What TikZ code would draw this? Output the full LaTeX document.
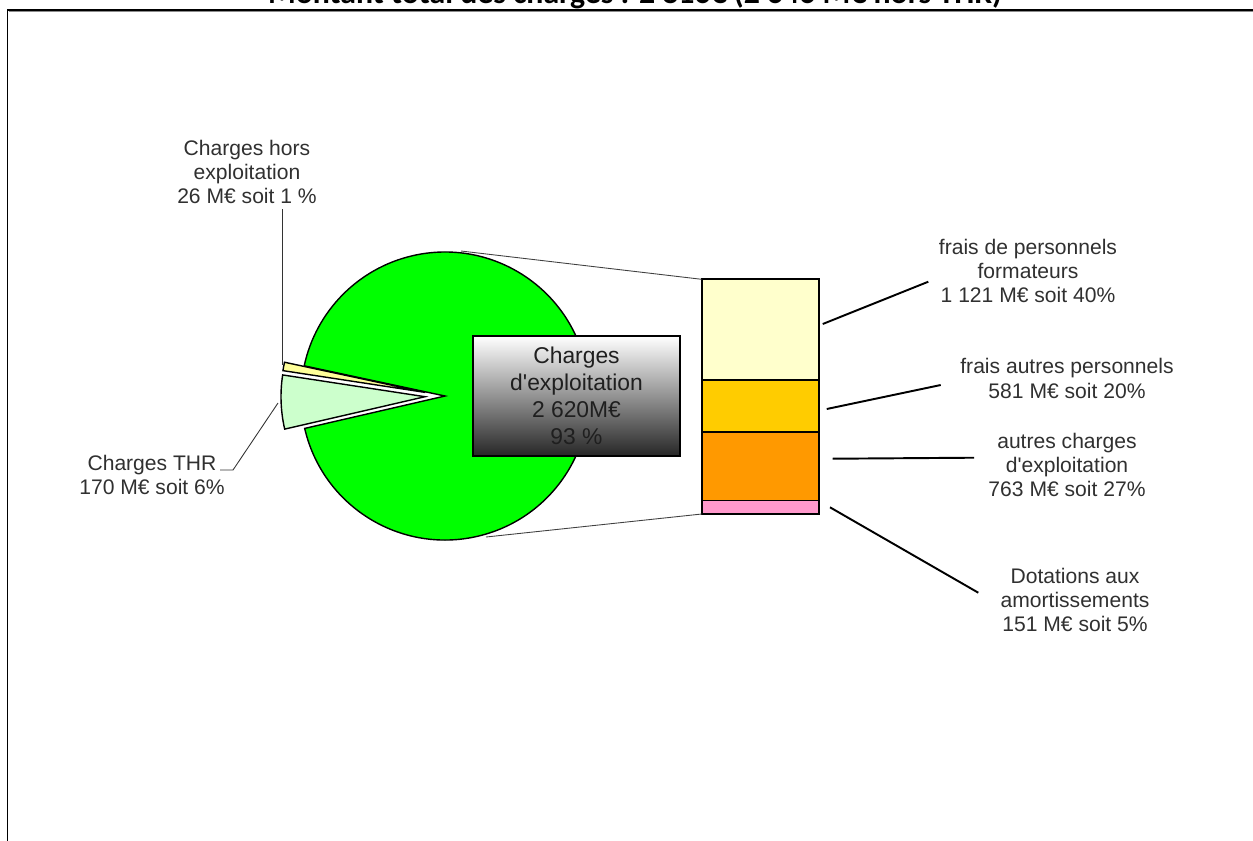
\documentclass[tikz,border=0pt]{standalone}
\usepackage{fontspec}
\setmainfont{Liberation Sans}[Ligatures=TeXOff]
\newfontfamily\titlefont{Carlito}
\definecolor{pgreen}{HTML}{00FF00}
\definecolor{pthr}{HTML}{CCFFCC}
\definecolor{phors}{HTML}{FFFF99}
\definecolor{bone}{HTML}{FFFFCC}
\definecolor{btwo}{HTML}{FFCC00}
\definecolor{bthree}{HTML}{FF9900}
\definecolor{bfour}{HTML}{FF99CC}
\definecolor{txt}{HTML}{303030}
\tikzset{
  lbl/.style={align=center, inner sep=0pt, text=txt, font=\fontsize{12}{13.9}\selectfont},
  boxlbl/.style={draw=black, line width=0.9pt, align=center, text=black!88,
    top color=white, bottom color=black!85, minimum width=4.14cm, minimum height=2.4cm,
    inner sep=0pt, font=\fontsize{13}{15.4}\selectfont},
  slice/.style={draw=black, line width=0.8pt},
  barseg/.style={draw=black, line width=1.1pt},
  thinlead/.style={draw=black!80, line width=0.5pt},
  thicklead/.style={draw=black, line width=1.1pt},
  zoomline/.style={draw=black!75, line width=0.5pt},
}
\begin{document}
\begin{tikzpicture}[x=0.02cm, y=-0.02cm]
\useasboundingbox (0,0) rectangle (1253,840);
% frame
\draw[black!45, line width=0.6pt] (8.5,11.3) -- (1300,11.3);
\draw[black, line width=1.1pt] (7.5,900) -- (7.5,9.8) -- (1300,9.8);
% title (cut off at the top, as in the reference)
\node[anchor=base, inner sep=0pt] (title) at (635,3.5) {\resizebox{14.68cm}{!}{\titlefont\bfseries Montant total des charges : 2 816€ (2 646 M€ hors THR)}};
% pie
\filldraw[slice, fill=pgreen] (445,396) -- ++(167:144) arc[start angle=167, end angle=-167.9, radius=144] -- cycle;
\filldraw[slice, fill=pthr] (425,396.7) -- ++(167:144) arc[start angle=167, end angle=188.7, radius=144] -- cycle;
\filldraw[slice, fill=phors] (425.3,392.4) -- ++(188.7:144) arc[start angle=188.7, end angle=192.1, radius=144] -- cycle;
% bar
\filldraw[barseg, fill=bone] (701.7,279.3) rectangle (819.3,379.9);
\filldraw[barseg, fill=btwo] (701.7,379.9) rectangle (819.3,432.2);
\filldraw[barseg, fill=bthree] (701.7,432.2) rectangle (819.3,500.5);
\filldraw[barseg, fill=bfour] (701.7,500.5) rectangle (819.3,514);
% zoom lines pie -> bar
\coordinate (pieTop) at (461,251);
\coordinate (pieBot) at (486,537);
\coordinate (barTL) at (701.7,279.3);
\coordinate (barBL) at (701.7,514);
\draw[zoomline] (pieTop) -- (barTL);
\draw[zoomline] (pieBot) -- (barBL);
% central box
\node[boxlbl] (exp) at (576.5,396) {Charges\\d'exploitation\\2 620M€\\93 \%};
% left labels
\node[lbl] (hors) at (247,172) {Charges hors\\exploitation\\26 M€ soit 1 \%};
\node[lbl] (thr) at (152,475) {Charges THR\\170 M€ soit 6\%};
\coordinate (horsA) at (282,209);
\coordinate (horsB) at (282,365);
\draw[thinlead] (horsA) -- (horsB);
\coordinate (thrA) at (278,403);
\coordinate (thrB) at (233,470);
\coordinate (thrC) at (220,470);
\draw[thinlead] (thrA) -- (thrB) -- (thrC);
% right labels
\node[lbl] (fone) at (1028,271) {frais de personnels\\formateurs\\1 121 M€ soit 40\%};
\node[lbl] (ftwo) at (1067,378.5) {frais autres personnels\\581 M€ soit 20\%};
\node[lbl] (fthree) at (1067,465) {autres charges\\d'exploitation\\763 M€ soit 27\%};
\node[lbl] (ffour) at (1075,600) {Dotations aux\\amortissements\\151 M€ soit 5\%};
\coordinate (aone) at (822.7,324);   \coordinate (bone) at (928.3,281.7);
\coordinate (atwo) at (826.7,409);   \coordinate (btwo) at (940.7,385);
\coordinate (athree) at (832.7,458.7); \coordinate (bthree) at (974,457.7);
\coordinate (afour) at (830,507.3);  \coordinate (bfour) at (978.3,592.7);
\draw[thicklead] (aone) -- (bone);
\draw[thicklead] (atwo) -- (btwo);
\draw[thicklead] (athree) -- (bthree);
\draw[thicklead] (afour) -- (bfour);
\end{tikzpicture}
\end{document}
